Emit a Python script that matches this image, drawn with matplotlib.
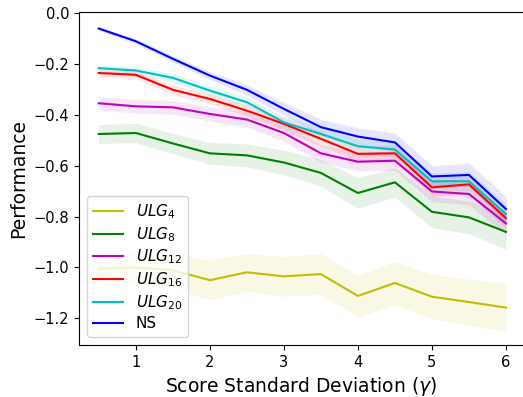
import numpy as np
import matplotlib
matplotlib.use("Agg")
import matplotlib.pyplot as plt

gamma = [0.5, 1.0, 1.5, 2.0, 2.5, 3.0, 3.5, 4.0, 4.5, 5.0, 5.5, 6.0]

ulg4 = [-1.005, -1.000, -1.011, -1.050, -1.019, -1.035, -1.026, -1.112, -1.061, -1.115, -1.136, -1.158]
ulg8 = [-0.475, -0.471, -0.512, -0.551, -0.559, -0.587, -0.628, -0.707, -0.665, -0.781, -0.803, -0.860]
ulg12 = [-0.354, -0.366, -0.370, -0.396, -0.418, -0.471, -0.551, -0.584, -0.580, -0.701, -0.711, -0.827]
ulg16 = [-0.235, -0.242, -0.301, -0.337, -0.383, -0.435, -0.494, -0.553, -0.551, -0.685, -0.673, -0.806]
ulg20 = [-0.216, -0.225, -0.254, -0.304, -0.350, -0.429, -0.475, -0.523, -0.536, -0.661, -0.661, -0.790]
ns = [-0.060, -0.110, -0.179, -0.245, -0.301, -0.376, -0.448, -0.485, -0.508, -0.642, -0.636, -0.770]

ulg4_std = [0.070, 0.065, 0.070, 0.077, 0.075, 0.078, 0.080, 0.082, 0.085, 0.088, 0.090, 0.095]
ulg8_std = [0.037, 0.038, 0.040, 0.043, 0.045, 0.048, 0.052, 0.060, 0.058, 0.062, 0.064, 0.068]
ulg12_std = [0.026, 0.026, 0.027, 0.028, 0.030, 0.032, 0.034, 0.036, 0.038, 0.040, 0.042, 0.045]
ulg16_std = [0.015, 0.016, 0.018, 0.020, 0.022, 0.025, 0.028, 0.030, 0.032, 0.035, 0.038, 0.042]
ulg20_std = [0.014, 0.015, 0.017, 0.019, 0.021, 0.024, 0.027, 0.029, 0.031, 0.034, 0.036, 0.040]
ns_std = [0.008, 0.010, 0.013, 0.016, 0.020, 0.025, 0.030, 0.034, 0.037, 0.042, 0.046, 0.050]

series = [
    (r"$ULG_4$", ulg4, ulg4_std, "y"),
    (r"$ULG_8$", ulg8, ulg8_std, "g"),
    (r"$ULG_{12}$", ulg12, ulg12_std, "m"),
    (r"$ULG_{16}$", ulg16, ulg16_std, "r"),
    (r"$ULG_{20}$", ulg20, ulg20_std, "c"),
    ("NS", ns, ns_std, "b"),
]

fig = plt.figure(figsize=(5.23, 3.97), dpi=100)
# axes reach the right border of the figure, no right spine
ax = fig.add_axes([79 / 523, 52 / 397, 444 / 523, 333 / 397])

x = np.array(gamma)
for label, mean, std, color in series:
    mean = np.array(mean)
    std = np.array(std)
    ax.plot(x, mean, color=color, linewidth=1.5, label=label)
    ax.fill_between(x, mean - std, mean + std, color=color, alpha=0.1, linewidth=0)

ax.set_xlim(0.233, 6.23)
ax.set_ylim(-1.305, 0.005)
ax.spines["right"].set_visible(False)
ax.set_xticks([1, 2, 3, 4, 5, 6])
ax.set_yticks([0.0, -0.2, -0.4, -0.6, -0.8, -1.0, -1.2])
ax.tick_params(labelsize=10.5)
ax.set_xlabel(r"Score Standard Deviation ($\gamma$)", fontsize=13.5)
ax.set_ylabel("Performance", fontsize=13.5)
ax.legend(loc="lower left", fontsize=11, labelspacing=0.27)

fig.savefig("out.png", dpi=100)
